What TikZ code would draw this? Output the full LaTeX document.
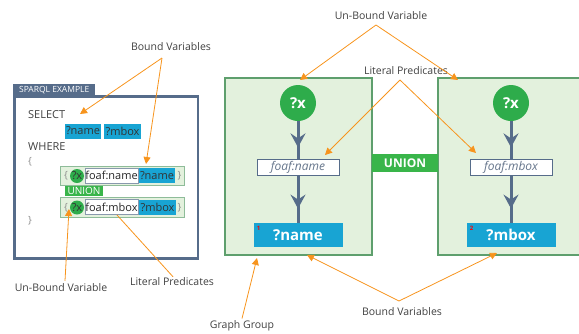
\documentclass[tikz,border=0pt]{standalone}
\usepackage{fontspec}
\setmainfont{Open Sans}
\usetikzlibrary{arrows.meta,decorations.markings}

\definecolor{noteorange}{HTML}{F7941D}
\definecolor{slate}{HTML}{566C8A}
\definecolor{varblue}{HTML}{18A4D3}
\definecolor{xgreen}{HTML}{2EAC4B}
\definecolor{uniongreen}{HTML}{39B54A}
\definecolor{groupedge}{HTML}{5E9F6D}
\definecolor{groupfill}{HTML}{E3F1DD}
\definecolor{predgrey}{HTML}{66768C}

\begin{document}
\begin{tikzpicture}[x=1pt,y=-1pt,
    note/.style={draw=noteorange, line width=0.8pt, -{Triangle[length=7pt,width=7pt]}},
    label/.style={font=\fontsize{10.5}{12}\selectfont, text=black!75, inner sep=0pt},
    code/.style={font=\fontsize{11}{12}\selectfont, text=black!75, inner sep=0pt, anchor=west},
    brace/.style={font=\fontsize{10}{12}\selectfont, text=black!45, inner sep=0pt},
    qvar/.style={fill=varblue, text=black!80, font=\fontsize{11}{12}\selectfont, inner sep=0pt, minimum height=15pt},
    qpred/.style={fill=white, draw=slate!70, line width=0.6pt, text=black!85, font=\fontsize{11}{12}\selectfont, inner sep=0pt, minimum width=53pt, minimum height=15pt},
    qx/.style={circle, fill=xgreen, text=black!80, font=\fontsize{11}{12}\selectfont, inner sep=0pt, minimum size=14pt},
    qgroup/.style={fill=groupfill, draw=groupedge!70, line width=0.8pt, minimum width=124pt},
    groupbox/.style={fill=groupfill, draw=groupedge, line width=1.8pt, minimum width=147pt, minimum height=177pt},
    xcirc/.style={circle, fill=xgreen, text=white, font=\fontsize{15}{16}\bfseries, inner sep=0pt, minimum size=36pt},
    predbox/.style={fill=white, draw=slate, line width=0.8pt, text=predgrey, font=\fontsize{12}{13}\selectfont\itshape, inner sep=0pt, minimum width=82pt, minimum height=16pt},
    varbox/.style={fill=varblue, text=white, font=\fontsize{15}{16}\bfseries, inner sep=0pt, minimum width=89pt, minimum height=24pt},
    idx/.style={text=red, font=\fontsize{6}{6}\bfseries, inner sep=0pt},
    flow/.style={draw=slate, line width=3pt, postaction={decorate},
        decoration={markings, mark=at position 0.7 with {\arrow{Stealth[length=14pt,width=15pt,inset=5pt]}}}}]

    \useasboundingbox (0,0) rectangle (579,333);

    % sparql example
    \draw[slate, line width=2.5pt] (14.5,96.5) rectangle (198,258.5);
    \node[fill=slate, text=white, font=\fontsize{8.5}{9}\selectfont, inner sep=0pt,
        minimum width=82pt, minimum height=13pt, anchor=south west] (tab) at (13,97) {SPARQL EXAMPLE};

    \node[code] (sel) at (28,115) {SELECT};
    \node[qvar, minimum width=36pt] (sname) at (83,131) {?name};
    \node[qvar, minimum width=37pt] (smbox) at (122.5,131) {?mbox};
    \node[code] (whr) at (28,147) {WHERE};
    \node[brace, anchor=west] (lb) at (28,162) {\{};

    \node[qgroup, minimum height=19pt] (q1) at (122,175.5) {};
    \node[brace] (q1l) at (66,176) {\{};
    \node[qx] (q1x) at (77,176) {?x};
    \node[qpred] (q1p) at (111.5,175.5) {foaf:name};
    \node[qvar, minimum width=36pt] (q1v) at (157,175.5) {?name};
    \node[brace] (q1r) at (179.5,176) {\}};

    \node[fill=uniongreen, text=white, font=\fontsize{10}{11}\selectfont, inner sep=0pt,
        minimum width=38pt, minimum height=10pt] (qu) at (84,191) {UNION};

    \node[qgroup, minimum height=20pt] (q2) at (122,207) {};
    \node[brace] (q2l) at (66,207.5) {\{};
    \node[qx] (q2x) at (77,207.5) {?x};
    \node[qpred] (q2p) at (111.5,207) {foaf:mbox};
    \node[qvar, minimum width=37pt] (q2v) at (157.5,207) {?mbox};
    \node[brace] (q2r) at (179.5,207.5) {\}};

    \node[brace, anchor=west] (rb) at (28,221) {\}};

    % graph groups
    \node[groupbox] (g1) at (298.5,166.5) {};
    \node[groupbox] (g2) at (511.5,166.5) {};
    \node[fill=uniongreen, text=white, font=\fontsize{12}{13}\bfseries, inner sep=0pt,
        minimum width=66pt, minimum height=18pt] (un) at (405,163) {UNION};

    \node[xcirc] (x1) at (298,103) {?x};
    \node[predbox] (p1) at (298,167) {foaf:name};
    \node[varbox] (v1) at (298,235) {?name};
    \node[idx] (n1) at (258.5,228) {1};
    \draw[flow] (x1) -- (p1);
    \draw[flow] (p1) -- (v1);

    \node[xcirc] (x2) at (511,103) {?x};
    \node[predbox] (p2) at (511,167) {foaf:mbox};
    \node[varbox] (v2) at (511,235) {?mbox};
    \node[idx] (n2) at (471.5,228) {2};
    \draw[flow] (x2) -- (p2);
    \draw[flow] (p2) -- (v2);

    % labels
    \node[label] (bvtop) at (171,47) {Bound Variables};
    \node[label] (ubtop) at (381,16) {Un-Bound Variable};
    \node[label] (lptop) at (406,71) {Literal Predicates};
    \node[label] (ubbot) at (61,288) {Un-Bound Variable};
    \node[label] (lpbot) at (172,282) {Literal Predicates};
    \node[label] (gg) at (242,326) {Graph Group};
    \node[label] (bvbot) at (402,312) {Bound Variables};

    \coordinate (bvtopc) at (162,58);
    \coordinate (ubtopc) at (376,25);
    \coordinate (lptopc) at (400,80);
    \coordinate (bvbotc) at (399,301);
    \coordinate (selt) at (80,114);
    \coordinate (q1vt) at (146,164);
    \coordinate (g1t) at (300,80);
    \coordinate (g2t) at (458,80);
    \coordinate (p1t) at (325,155);
    \coordinate (p2t) at (476,153);
    \coordinate (q2xt) at (69,209);
    \coordinate (q2pt) at (117,215);
    \coordinate (g1b) at (257,258);
    \coordinate (v1t) at (307,255);
    \coordinate (v2t) at (497,253);

    \draw[note] (bvtopc) -- (selt);
    \draw[note] (bvtopc) -- (q1vt);
    \draw[note] (ubtopc) -- (g1t);
    \draw[note] (ubtopc) -- (g2t);
    \draw[note] (lptopc) -- (p1t);
    \draw[note] (lptopc) -- (p2t);
    \draw[note] (ubbot.north) ++(4,-3) -- (q2xt);
    \draw[note, -] (lpbot.north) ++(1,-1) -- (q2pt);
    \draw[note] (gg.north) ++(0,-2) -- (g1b);
    \draw[note] (bvbotc) -- (v1t);
    \draw[note] (bvbotc) -- (v2t);

\end{tikzpicture}
\end{document}
